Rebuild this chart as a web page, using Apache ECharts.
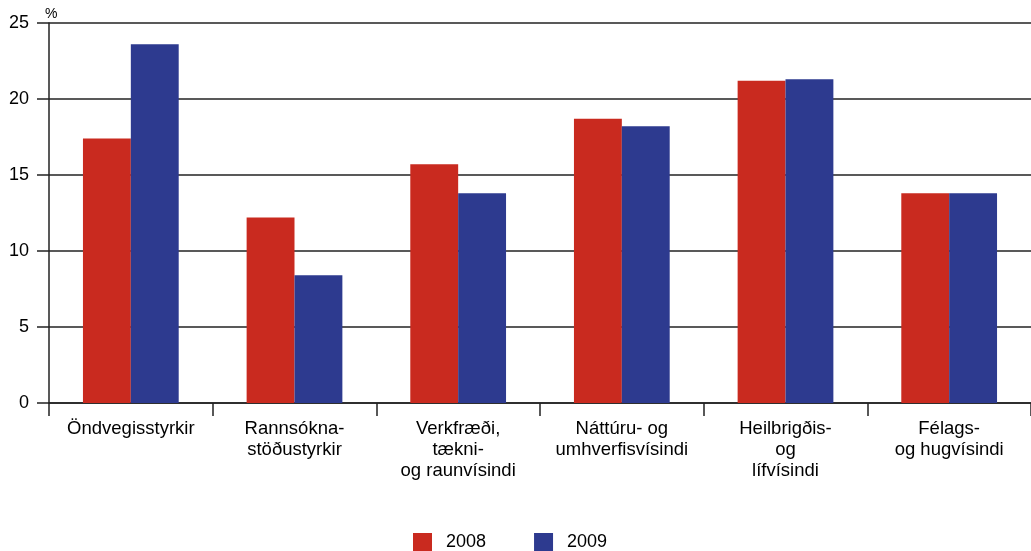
<!DOCTYPE html>
<html>
<head>
<meta charset="utf-8">
<script src="https://cdn.jsdelivr.net/npm/echarts@6/dist/echarts.min.js"></script>
<style>
html,body{margin:0;padding:0;background:#fff;}
#chart{width:1031px;height:551px;}
</style>
</head>
<body>
<div id="chart"></div>
<script>
const categories = ['Öndvegisstyrkir', 'Rannsókna-\nstöðustyrkir', 'Verkfræði,\ntækni-\nog raunvísindi', 'Náttúru- og\numhverfisvísindi', 'Heilbrigðis-\nog\nlífvísindi', 'Félags-\nog hugvísindi'];
const values2008 = [17.4, 12.2, 15.7, 18.7, 21.2, 13.8];
const values2009 = [23.6, 8.4, 13.8, 18.2, 21.3, 13.8];
const seriesNames = ['2008', '2009'];
const yTicks = [0, 5, 10, 15, 20, 25];

const FONT = '"Liberation Sans", Arial, sans-serif';
const chart = echarts.init(document.getElementById('chart'));
chart.setOption({
  animation: false,
  textStyle: {fontFamily: FONT},
  grid: {left: 49, right: 0, top: 23, bottom: 148, containLabel: false},
  legend: {
    data: seriesNames,
    top: 528,
    left: 408,
    itemWidth: 19,
    itemHeight: 18,
    itemGap: 48,
    icon: 'rect',
    textStyle: {fontSize: 18, color: '#000', fontFamily: FONT, padding: [0, 0, 0, 9]}
  },
  xAxis: {
    type: 'category',
    data: categories,
    boundaryGap: true,
    axisLine: {show: true, lineStyle: {color: '#222', width: 1.5}},
    axisTick: {show: true, length: 13, alignWithLabel: false, lineStyle: {color: '#222', width: 1.5}},
    axisLabel: {fontSize: 18.5, color: '#000', lineHeight: 21, margin: 15, interval: 0, fontFamily: FONT}
  },
  yAxis: {
    type: 'value',
    min: yTicks[0],
    max: yTicks[yTicks.length - 1],
    interval: 5,
    name: '%',
    nameLocation: 'end',
    nameGap: 2,
    nameTextStyle: {fontSize: 14, color: '#000', align: 'left', padding: [0, 0, 0, -4], fontFamily: FONT},
    axisLine: {show: true, onZero: false, lineStyle: {color: '#222', width: 1.5}},
    axisTick: {show: true, length: 12, lineStyle: {color: '#222', width: 1.5}},
    axisLabel: {fontSize: 18, color: '#000', margin: 20, fontFamily: FONT},
    splitLine: {show: true, lineStyle: {color: '#222', width: 1.5}}
  },
  series: [
    {name: seriesNames[0], type: 'bar', data: values2008, barGap: '0%', barCategoryGap: '41.5%', itemStyle: {color: '#C92A1F'}},
    {name: seriesNames[1], type: 'bar', data: values2009, barGap: '0%', barCategoryGap: '41.5%', itemStyle: {color: '#2D3A8F'}}
  ]
});
</script>
</body>
</html>
